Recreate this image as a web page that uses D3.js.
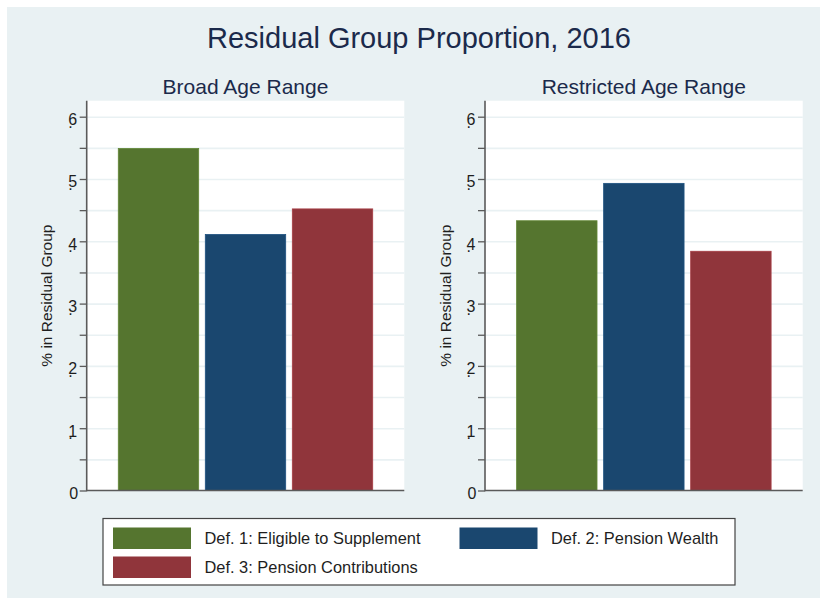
<!DOCTYPE html>
<html><head><meta charset="utf-8">
<script src="https://cdn.jsdelivr.net/npm/d3@7"></script>
<style>
html,body{margin:0;padding:0;background:#fff;}
svg{display:block;font-family:"Liberation Sans",Arial,sans-serif;}
</style>
</head><body>
<svg id="chart" width="820" height="598"></svg>
<script>
const chartTitle = "Residual Group Proportion, 2016";
const panelTitles = ["Broad Age Range", "Restricted Age Range"];
const categories = ["Def. 1: Eligible to Supplement", "Def. 2: Pension Wealth", "Def. 3: Pension Contributions"];
const broadValues = [0.549, 0.411, 0.452];
const restrictedValues = [0.433, 0.493, 0.384];
const yTickValues = [0, 0.1, 0.2, 0.3, 0.4, 0.5, 0.6];
const yTickLabels = ["0", ".1", ".2", ".3", ".4", ".5", ".6"];
const yMinorTickValues = [0.05, 0.15, 0.25, 0.35, 0.45, 0.55];
const yAxisTitle = "% in Residual Group";
const seriesColors = ["#55752f", "#1a476f", "#90353b"];

const svg = d3.select("#chart");
const bg = "#e9f1f3";
const axisColor = "#5a5a5a";
const titleColor = "#1b2a4b";
const textColor = "#1e1e1e";

svg.append("rect").attr("x", 7).attr("y", 7).attr("width", 813).attr("height", 591).attr("fill", bg);

svg.append("text").attr("x", 419).attr("y", 48.3).attr("text-anchor", "middle")
  .attr("font-size", 29).attr("fill", titleColor).text(chartTitle);

const panelLayout = [{x0: 86.7, x1: 404.3}, {x0: 485, x1: 802.7}];
const panelValues = [broadValues, restrictedValues];
const plotTop = 100.7, plotBottom = 490.5;

const y = d3.scaleLinear().domain([0, 0.6]).range([plotBottom, 116.7]);
const allTicks = yTickValues.concat(yMinorTickValues);

panelLayout.forEach((p, i) => {
  const g = svg.append("g");
  g.append("rect").attr("x", p.x0).attr("y", plotTop).attr("width", p.x1 - p.x0)
    .attr("height", plotBottom - plotTop).attr("fill", "#fff");

  // gridlines
  const grid = g.append("g").attr("transform", `translate(${p.x0},0)`)
    .call(d3.axisLeft(y).tickValues(allTicks).tickSize(-(p.x1 - p.x0)).tickFormat(""));
  grid.select(".domain").remove();
  grid.selectAll(".tick line").attr("stroke", bg).attr("stroke-width", 1.6);

  // bars
  const x = d3.scaleBand().domain(categories).range([p.x0, p.x1])
    .paddingInner(0.076).paddingOuter(0.363);
  g.selectAll("rect.bar").data(panelValues[i]).enter().append("rect")
    .attr("class", "bar")
    .attr("x", (d, j) => x(categories[j]))
    .attr("y", d => y(d))
    .attr("width", x.bandwidth())
    .attr("height", d => y(0) - y(d))
    .attr("fill", (d, j) => seriesColors[j])
    .attr("stroke", (d, j) => d3.color(seriesColors[j]).brighter(0.4))
    .attr("stroke-width", 0.8);

  // axis ticks
  const ax = g.append("g").attr("transform", `translate(${p.x0},0)`)
    .call(d3.axisLeft(y).tickValues(allTicks).tickSize(7).tickFormat(""));
  ax.select(".domain").remove();
  ax.selectAll(".tick line").attr("stroke", axisColor).attr("stroke-width", 1.3);

  g.append("line").attr("x1", p.x0).attr("x2", p.x0).attr("y1", plotTop).attr("y2", plotBottom + 0.7)
    .attr("stroke", axisColor).attr("stroke-width", 1.6);
  g.append("line").attr("x1", p.x0).attr("x2", p.x1).attr("y1", plotBottom).attr("y2", plotBottom)
    .attr("stroke", axisColor).attr("stroke-width", 1.6);

  // tick labels: vertical text, upright glyphs (Stata-style)
  yTickValues.forEach((v, k) => {
    const lab = yTickLabels[k];
    const ty = y(v);
    if (lab.startsWith(".")) {
      g.append("text")
        .attr("transform", `translate(${p.x0 - 18.4},${ty + 10.9}) rotate(-90)`)
        .attr("rotate", 90)
        .style("letter-spacing", "-2px")
        .attr("font-size", 16).attr("fill", textColor).text(lab);
    } else {
      g.append("text").attr("x", p.x0 - 17.5).attr("y", ty + 8.5)
        .attr("font-size", 16).attr("fill", textColor).text(lab);
    }
  });

  // y-axis title
  g.append("text").attr("transform", `translate(${p.x0 - 34.5},${(plotTop + plotBottom) / 2}) rotate(-90)`)
    .attr("text-anchor", "middle").attr("font-size", 15.5).attr("fill", textColor).text(yAxisTitle);

  // panel title
  g.append("text").attr("x", (p.x0 + p.x1) / 2).attr("y", 94).attr("text-anchor", "middle")
    .attr("font-size", 21).attr("fill", titleColor).text(panelTitles[i]);
});

// legend
const lg = svg.append("g");
lg.append("rect").attr("x", 103).attr("y", 518.5).attr("width", 632).attr("height", 66.5)
  .attr("fill", "#fff").attr("stroke", "#444").attr("stroke-width", 1.2);
const legendPos = [{x: 113, y: 527.5}, {x: 459.5, y: 527.5}, {x: 113, y: 556.5}];
categories.forEach((c, j) => {
  const lp = legendPos[j];
  lg.append("rect").attr("x", lp.x).attr("y", lp.y).attr("width", 78).attr("height", 21.5)
    .attr("fill", seriesColors[j]);
  lg.append("text").attr("x", lp.x + 91.5).attr("y", lp.y + 16.3).attr("font-size", 16.4)
    .attr("fill", textColor).text(c);
});
</script>
</body></html>
